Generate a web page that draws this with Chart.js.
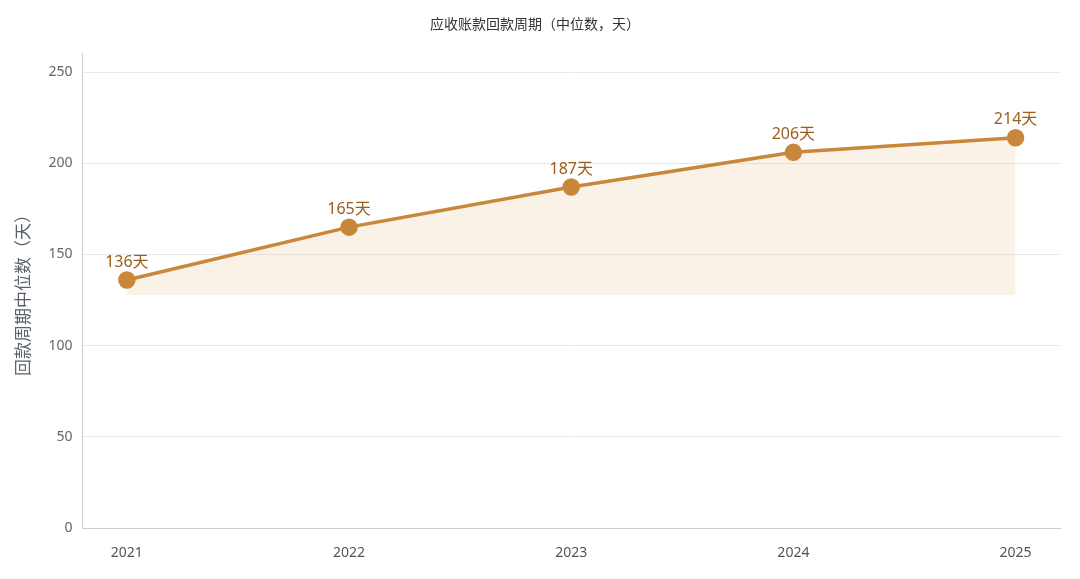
<!DOCTYPE html>
<html>
<head>
<meta charset="utf-8">
<script src="https://cdn.jsdelivr.net/npm/chart.js@4"></script>
<style>
  body { margin: 0; background: #fff; }
  #wrap { width: 1080px; height: 579px; }
</style>
</head>
<body>
<div id="wrap"><canvas id="chart"></canvas></div>
<script>
const years = [2021, 2022, 2023, 2024, 2025];
const days = [136, 165, 187, 206, 214];
const yTicks = [0, 50, 100, 150, 200, 250];
const fillBase = 128;

Chart.defaults.font.family = '"Noto Sans", "Noto Sans CJK SC", sans-serif';

// draws "136天" style labels above each point
const pointLabels = {
    id: 'pointLabels',
    afterDatasetsDraw(chart) {
        const ctx = chart.ctx;
        const meta = chart.getDatasetMeta(0);
        ctx.save();
        ctx.font = '16px "Noto Sans", "Noto Sans CJK SC", sans-serif';
        ctx.fillStyle = '#9a5f1c';
        ctx.textAlign = 'center';
        ctx.textBaseline = 'bottom';
        meta.data.forEach((pt, i) => {
            ctx.fillText(days[i] + '天', pt.x, pt.y - 10);
        });
        ctx.restore();
    }
};

new Chart(document.getElementById('chart'), {
    type: 'line',
    data: {
        datasets: [{
            data: years.map((y, i) => ({ x: y, y: days[i] })),
            borderColor: '#c8873a',
            backgroundColor: 'rgba(236, 200, 160, 0.25)',
            borderWidth: 3.5,
            pointRadius: 7,
            pointHoverRadius: 7,
            pointBackgroundColor: '#c8873a',
            pointBorderColor: '#c8873a',
            fill: { value: fillBase },
            tension: 0
        }]
    },
    plugins: [pointLabels],
    options: {
        responsive: true,
        maintainAspectRatio: false,
        animation: false,
        layout: { padding: { left: 10, right: 20, top: 5, bottom: 10 } },
        plugins: {
            legend: { display: false },
            tooltip: { enabled: false },
            title: {
                display: true,
                text: '应收账款回款周期（中位数，天）',
                color: '#333',
                font: { size: 14, weight: 'normal' },
                padding: { top: 12, bottom: 20 }
            }
        },
        scales: {
            x: {
                type: 'linear',
                min: 2020.8,
                max: 2025.2,
                afterBuildTicks: axis => { axis.ticks = years.map(v => ({ value: v })); },
                grid: { display: false },
                border: { color: '#c8ccd4' },
                ticks: {
                    autoSkip: false,
                    color: '#555',
                    font: { size: 14 },
                    padding: 8,
                    callback: v => String(v)
                }
            },
            y: {
                min: 0,
                max: 260,
                afterBuildTicks: axis => { axis.ticks = yTicks.map(v => ({ value: v })); },
                ticks: {
                    color: '#666',
                    font: { size: 14 },
                    padding: 10
                },
                grid: {
                    color: c => (c.tick && c.tick.value !== 0 ? '#e6e9ee' : 'rgba(0,0,0,0)'),
                    drawTicks: false
                },
                border: { color: '#c8ccd4' },
                title: {
                    display: true,
                    text: '回款周期中位数（天）',
                    color: '#5a6270',
                    font: { size: 17 }
                }
            }
        }
    }
});
</script>
</body>
</html>
